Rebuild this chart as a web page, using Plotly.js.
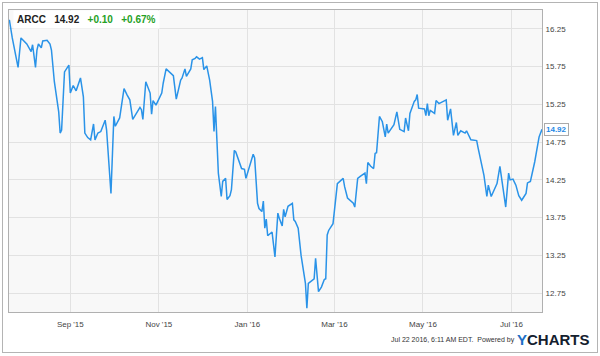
<!DOCTYPE html>
<html>
<head>
<meta charset="utf-8">
<script src="https://cdn.plot.ly/plotly-3.0.1.min.js"></script>
<style>
  html, body { margin: 0; padding: 0; background: #fff; }
  #wrap { position: relative; width: 600px; height: 356px; }
  #chart { width: 600px; height: 356px; }
  #frame { position: absolute; left: 2px; top: 2px; width: 594px; height: 349px; border: 1px solid #b4b4b4; pointer-events: none; }
</style>
</head>
<body>
<div id="wrap"><div id="chart"></div><div id="frame"></div></div>
<script>
const dates = [
"2015-07-21","2015-07-23","2015-07-27","2015-07-29","2015-08-02","2015-08-05","2015-08-06","2015-08-08","2015-08-09","2015-08-10",
"2015-08-12","2015-08-13","2015-08-16","2015-08-18","2015-08-19","2015-08-21","2015-08-24","2015-08-25","2015-08-26","2015-08-28",
"2015-08-31","2015-09-01","2015-09-03","2015-09-05","2015-09-08","2015-09-10","2015-09-11","2015-09-13","2015-09-15","2015-09-17",
"2015-09-18","2015-09-20","2015-09-22","2015-09-25","2015-09-26","2015-09-29","2015-10-01","2015-10-02","2015-10-05","2015-10-08",
"2015-10-10","2015-10-12","2015-10-14","2015-10-17","2015-10-19","2015-10-20","2015-10-21","2015-10-23","2015-10-26","2015-10-27",
"2015-10-28","2015-10-30","2015-11-03","2015-11-04","2015-11-06","2015-11-11","2015-11-13","2015-11-16","2015-11-17","2015-11-19",
"2015-11-20","2015-11-23","2015-11-24","2015-11-26","2015-11-27","2015-11-29","2015-12-01","2015-12-02","2015-12-04","2015-12-06",
"2015-12-08","2015-12-09","2015-12-10","2015-12-11","2015-12-12","2015-12-14","2015-12-15","2015-12-17","2015-12-18","2015-12-20",
"2015-12-21","2015-12-23","2015-12-24","2015-12-28","2015-12-30","2015-12-31","2016-01-03","2016-01-05","2016-01-06","2016-01-08",
"2016-01-09","2016-01-11","2016-01-12","2016-01-13","2016-01-14","2016-01-15","2016-01-18","2016-01-20","2016-01-22","2016-01-23",
"2016-01-25","2016-01-26","2016-01-27","2016-01-29","2016-02-01","2016-02-02","2016-02-03","2016-02-05","2016-02-07","2016-02-09",
"2016-02-10","2016-02-11","2016-02-12","2016-02-16","2016-02-17","2016-02-19","2016-02-21","2016-02-23","2016-02-24","2016-02-25",
"2016-02-26","2016-02-29","2016-03-02","2016-03-03","2016-03-07","2016-03-08","2016-03-10","2016-03-14","2016-03-15","2016-03-17",
"2016-03-19","2016-03-22","2016-03-23","2016-03-24","2016-03-26","2016-03-28","2016-03-29","2016-03-30","2016-04-01","2016-04-03",
"2016-04-05","2016-04-06","2016-04-07","2016-04-11","2016-04-13","2016-04-15","2016-04-18","2016-04-19","2016-04-21","2016-04-22",
"2016-04-25","2016-04-26","2016-04-27","2016-04-28","2016-05-02","2016-05-03","2016-05-04","2016-05-05","2016-05-06","2016-05-09",
"2016-05-10","2016-05-12","2016-05-13","2016-05-17","2016-05-18","2016-05-20","2016-05-22","2016-05-24","2016-05-25","2016-05-27",
"2016-05-30","2016-05-31","2016-06-03","2016-06-07","2016-06-08","2016-06-10","2016-06-12","2016-06-14","2016-06-15","2016-06-17",
"2016-06-19","2016-06-21","2016-06-23","2016-06-25","2016-06-27","2016-06-29","2016-06-30","2016-07-02","2016-07-04","2016-07-06",
"2016-07-08","2016-07-11","2016-07-12","2016-07-14","2016-07-17","2016-07-19","2016-07-20","2016-07-22"
];
const prices = [
16.37,16.13,15.74,16.13,16.05,15.95,16.04,15.74,15.97,16.05,
16.00,16.09,16.10,16.05,15.97,15.55,15.15,14.87,14.91,15.68,
15.77,15.40,15.50,15.43,15.60,15.35,14.87,14.81,14.78,14.99,
14.78,14.87,14.89,15.04,14.91,14.07,15.09,14.96,15.07,15.46,
15.38,15.31,15.05,15.15,15.21,15.18,15.05,15.55,15.40,15.12,
15.30,15.24,15.40,15.53,15.72,15.63,15.32,15.57,15.60,15.72,
15.62,15.72,15.84,15.86,15.88,15.85,15.87,15.71,15.76,15.57,
15.29,14.89,15.22,14.78,14.34,14.03,14.23,14.27,13.99,14.04,
14.12,14.64,14.62,14.40,14.39,14.27,14.45,14.59,14.54,13.94,
13.87,13.83,13.97,13.61,13.73,13.51,13.56,13.23,13.81,13.74,
13.64,13.86,13.76,13.90,13.94,13.72,13.70,13.61,13.25,13.03,
12.88,12.55,12.88,12.94,13.21,12.77,12.83,12.93,12.94,13.52,
13.58,13.67,14.09,14.20,14.27,14.16,14.01,13.94,13.89,14.27,
14.30,14.34,14.20,14.48,14.43,14.40,14.60,14.61,15.09,15.02,
14.82,14.99,14.87,14.98,15.15,14.92,14.89,15.07,14.90,15.13,
15.29,15.31,15.38,15.20,15.19,15.10,15.26,15.10,15.17,15.13,
15.30,15.26,15.27,15.31,15.04,15.19,14.84,15.01,14.84,14.90,
14.87,14.90,14.78,14.77,14.67,14.51,14.31,14.03,14.18,14.03,
14.12,14.20,14.43,14.16,13.89,14.34,14.25,14.26,14.18,14.04,
13.98,14.07,14.21,14.23,14.49,14.71,14.82,14.92
];
const xTickVals = ["2015-09-01","2015-11-01","2016-01-01","2016-03-01","2016-05-01","2016-07-01"];
const xTickText = ["Sep '15","Nov '15","Jan '16","Mar '16","May '16","Jul '16"];
const yTickVals = [12.75,13.25,13.75,14.25,14.75,15.25,15.75,16.25];
const yTickText = ["12.75","13.25","13.75","14.25","14.75","15.25","15.75","16.25"];
const ticker = "ARCC";
const lastPrice = "14.92";
const change = "+0.10";
const changePct = "+0.67%";

const lastDate = dates[dates.length - 1];
const lastVal = prices[prices.length - 1];

const FONT = "Liberation Sans, Arial, sans-serif";

const trace = {
  x: dates, y: prices, type: "scatter", mode: "lines",
  line: { color: "#2a93e8", width: 1.5 },
  hoverinfo: "skip"
};

const layout = {
  width: 600, height: 356,
  margin: { l: 9, r: 58, t: 10, b: 44 },
  paper_bgcolor: "#ffffff",
  plot_bgcolor: "#f8f8f8",
  showlegend: false,
  font: { family: FONT, color: "#444", size: 8 },
  xaxis: {
    type: "date",
    range: ["2015-07-20 18:00", "2016-07-22"],
    tickmode: "array", tickvals: xTickVals, ticktext: xTickText,
    showgrid: true, gridcolor: "#e2e2e2", gridwidth: 1,
    ticks: "outside", ticklen: 4, tickcolor: "rgba(0,0,0,0)",
    tickfont: { family: FONT, size: 8, color: "#444" },
    showline: true, linecolor: "#b0b0b0", linewidth: 1, mirror: true,
    zeroline: false, fixedrange: true
  },
  yaxis: {
    side: "right",
    range: [12.5, 16.5],
    tickmode: "array", tickvals: yTickVals, ticktext: yTickText,
    showgrid: true, gridcolor: "#e2e2e2", gridwidth: 1,
    ticks: "outside", ticklen: 1, tickcolor: "rgba(0,0,0,0)",
    tickfont: { family: FONT, size: 8, color: "#444" },
    showline: true, linecolor: "#b0b0b0", linewidth: 1, mirror: true,
    zeroline: false, fixedrange: true
  },
  annotations: [
    {
      xref: "paper", yref: "paper", x: 0, y: 1, xanchor: "left", yanchor: "top",
      xshift: 4, showarrow: false, bgcolor: "#ffffff", borderpad: 3,
      align: "left",
      font: { family: FONT, size: 10, color: "#222" },
      text: "<b>" + ticker + "\u00a0\u00a0 " + lastPrice + "\u00a0\u00a0 <span style='color:#25a125'>" + change + "\u00a0\u00a0 " + changePct + "</span></b>"
    },
    {
      xref: "x", yref: "y", x: lastDate, y: lastVal, xanchor: "left", yanchor: "middle",
      xshift: 2, showarrow: false, bgcolor: "#ffffff", bordercolor: "#aaaaaa", borderwidth: 1, borderpad: 1,
      font: { family: FONT, size: 8, color: "#1e88e5" },
      text: "<b>" + lastPrice + "</b>"
    },
    {
      xref: "paper", yref: "paper", x: 0.953, y: -0.094, xanchor: "right", yanchor: "middle",
      showarrow: false, font: { family: FONT, size: 7, color: "#333" },
      text: "Jul 22 2016, 6:11 AM EDT.\u00a0 Powered by"
    },
    {
      xref: "paper", yref: "paper", x: 1.094, y: -0.090, xanchor: "right", yanchor: "middle",
      showarrow: false, font: { family: FONT, size: 15, color: "#14202e" },
      text: "<b><span style='color:#1f6fc5'>Y</span>CHARTS</b>"
    }
  ]
};

Plotly.newPlot("chart", [trace], layout, { displayModeBar: false, staticPlot: true });
</script>
</body>
</html>
